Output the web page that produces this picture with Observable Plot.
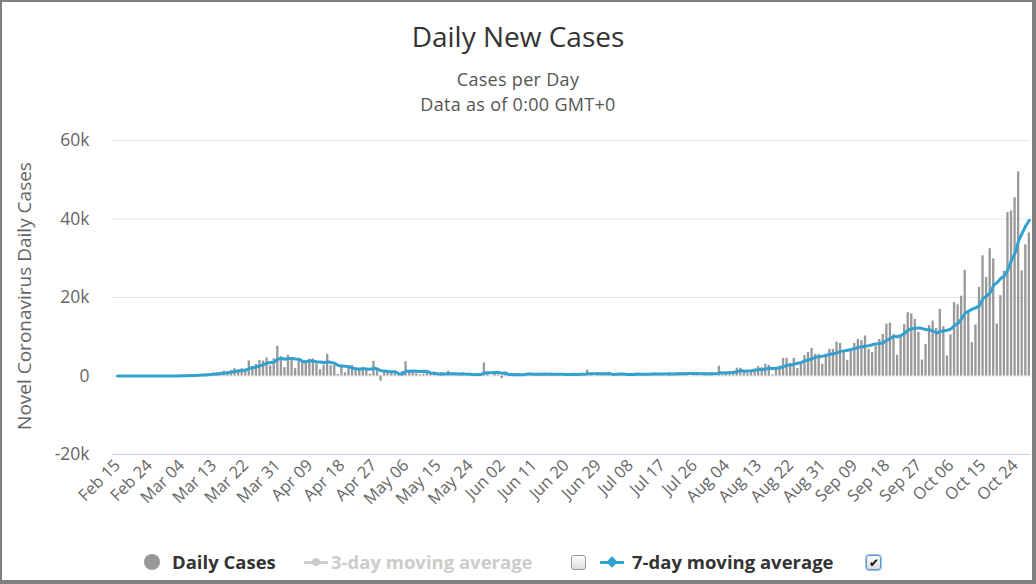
<!DOCTYPE html>
<html>
<head>
<meta charset="utf-8">
<script src="https://cdn.jsdelivr.net/npm/d3@7"></script>
<script src="https://cdn.jsdelivr.net/npm/@observablehq/plot@0.6"></script>
<style>
  html, body { margin: 0; padding: 0; background: #fff; }
  #wrap { position: relative; width: 1036px; height: 584px; overflow: hidden; font-family: "Open Sans", sans-serif; }
  #frame { position: absolute; left: 0; top: 0; width: 1036px; height: 584px; box-sizing: border-box;
           border-style: solid; border-color: #808080; border-width: 2px 4px 4px 2px; pointer-events: none; }
  .title { position: absolute; left: 0; width: 1036px; text-align: center; }
  #title { top: 18px; height: 36px; line-height: 36px; font-size: 28px; color: #333; }
  #sub1 { top: 67px; line-height: 24.6px; font-size: 18px; color: #555; letter-spacing: 0.3px; }
  #sub2 { top: 91.8px; line-height: 24.6px; font-size: 18px; color: #555; letter-spacing: 0.3px; }
  #ylab { position: absolute; left: 24px; top: 296px; transform: translate(-50%, -50%) rotate(-90deg);
          white-space: nowrap; font-size: 19px; line-height: 22px; color: #666; }
  #chart { position: absolute; left: 0; top: 120px; }
  #legend { position: absolute; left: 0; top: 550px; width: 1036px; height: 26px; font-weight: bold; font-size: 18.5px; }
  .li { position: absolute; top: -1px; line-height: 26px; white-space: nowrap; }
  .dot { position: absolute; width: 16px; height: 16px; border-radius: 50%; background: #999; top: 4px; }
  .sym { position: absolute; width: 24px; height: 3px; top: 11px; }
  .dia { position: absolute; width: 8px; height: 8px; top: -3px; left: 8px; transform: rotate(45deg); }
  .cb { position: absolute; width: 13px; height: 13px; top: 5px; border: 1px solid #999; border-radius: 3px;
        background: linear-gradient(#fff, #ddd); font-size: 12px; line-height: 13px; text-align: center; color: #111; font-weight: normal; }
</style>
</head>
<body>
<div id="wrap">
  <div class="title" id="title">Daily New Cases</div>
  <div class="title" id="sub1">Cases per Day</div>
  <div class="title" id="sub2">Data as of 0:00 GMT+0</div>
  <div id="ylab">Novel Coronavirus Daily Cases</div>
  <div id="chart"></div>
  <div id="legend">
    <div class="dot" style="left:144px"></div>
    <div class="li" style="left:172px;color:#333">Daily Cases</div>
    <div class="sym" style="left:304px;background:#ccc"><div class="dia" style="background:#ccc;border-radius:50%;transform:none"></div></div>
    <div class="li" style="left:331px;color:#ccc">3-day moving average</div>
    <div class="cb" style="left:571px"></div>
    <div class="sym" style="left:600px;background:#33a1cf"><div class="dia" style="background:#33a1cf"></div></div>
    <div class="li" style="left:632px;color:#333">7-day moving average</div>
    <div class="cb" style="left:866px;border-color:#5b9bd5;box-shadow:0 0 0 1px #9cc3ea">&#10004;</div>
  </div>
  <div id="frame"></div>
</div>
<script>
// ---- data (France, Worldometers-style daily new cases) ----
const startDate = "2020-02-15";
const casesFeb = [0,0,0,0,0,0,0,0,0,0,2,4,20,19,43];
const casesMar = [30,61,21,73,138,190,336,177,286,372,497,595,785,838,924,1210,1097,1404,1861,1617,1847,1559,3838,2446,2931,3922,3809,4611,2599,4376,7578];
const casesApr = [4861,2116,5233,4267,1873,3912,3777,3881,4286,4342,3114,1613,2673,5497,2633,2641,405,2569,785,2051,2667,1827,1653,1773,1537,461,3764,1520,-1300,1139];
const casesMay = [1100,800,580,220,1100,3640,1100,1284,579,312,456,802,600,940,0,820,0,1212,420,524,559,568,0,0,358,532,600,3325,1000,0,600];
const casesJun = [257,-700,767,611,600,579,0,344,500,767,400,495,526,407,0,700,371,458,460,480,0,600,500,500,360,1500,390,0,812,495];
const casesJul = [600,580,0,500,560,620,0,550,640,660,0,580,620,500,700,600,660,0,750,520,580,800,900,850,0,700,750,0,850,700,850];
const casesAug = [0,2500,300,700,1100,1100,2000,2000,1400,700,1100,1800,2400,2100,3000,2700,300,1700,2500,4500,4500,3200,4500,1900,3200,5200,6000,7000,5500,5500,3000];
const casesSep = [4900,6800,6800,8600,8300,6400,4000,6400,8300,9300,9000,10200,6800,6000,7500,9300,10593,13215,13498,10569,5298,10008,13072,16096,15797,14412,11123,4070,8051,12845];
const casesOct = [13970,12148,16972,12565,5084,10489,18746,18129,20339,26896,16101,8505,12993,22591,30621,25086,32427,29837,13243,20468,26676,41622,42032,45422,52010,26771,33417,36437];
const dailyCases = [...casesFeb, ...casesMar, ...casesApr, ...casesMay, ...casesJun, ...casesJul, ...casesAug, ...casesSep, ...casesOct];

const xTickLabels = ["Feb 15","Feb 24","Mar 04","Mar 13","Mar 22","Mar 31","Apr 09","Apr 18","Apr 27","May 06","May 15","May 24","Jun 02","Jun 11","Jun 20","Jun 29","Jul 08","Jul 17","Jul 26","Aug 04","Aug 13","Aug 22","Aug 31","Sep 09","Sep 18","Sep 27","Oct 06","Oct 15","Oct 24"];
const yTickValues = [-20000, 0, 20000, 40000, 60000];
const yTickLabels = ["-20k", "0", "20k", "40k", "60k"];
const gridValues = [0, 20000, 40000, 60000];

const barColor = "#999999";
const lineColor = "#33a1cf";

// ---- build table ----
const fmt = d3.utcFormat("%b %d");
const start = new Date(startDate + "T00:00:00Z");
const data = dailyCases.map((v, i) => {
  const d = d3.utcDay.offset(start, i);
  return {key: d3.utcFormat("%Y-%m-%d")(d), label: fmt(d), cases: v};
});
const keys = data.map(d => d.key);
const labelOf = new Map(data.map(d => [d.key, d.label]));
const tickKeys = data.filter(d => xTickLabels.includes(d.label)).map(d => d.key);
const yLabelOf = new Map(yTickValues.map((v, i) => [v, yTickLabels[i]]));

const chart = Plot.plot({
  width: 1036,
  height: 420,
  marginTop: 20,
  marginBottom: 86,
  marginLeft: 112,
  marginRight: 6,
  style: {fontFamily: "'Open Sans', sans-serif", background: "transparent", overflow: "visible"},
  x: {type: "band", domain: keys, paddingInner: 0.35, paddingOuter: 0.54, align: 1},
  y: {domain: [-20000, 60000]},
  marks: [
    Plot.ruleY(gridValues, {stroke: "#e6e6e6", strokeWidth: 1}),
    Plot.ruleY([-20000], {stroke: "#ccd6eb", strokeWidth: 1}),
    Plot.barY(data, {x: "key", y: "cases", fill: barColor}),
    Plot.lineY(data, Plot.windowY({k: 7, anchor: "end", reduce: "mean"}, {x: "key", y: "cases", stroke: lineColor, strokeWidth: 3, curve: "linear"})),
    Plot.axisY({ticks: yTickValues, tickFormat: v => yLabelOf.get(v), tickSize: 0, tickPadding: 23, fontSize: 17.5, color: "#666", label: null}),
    Plot.axisX({ticks: tickKeys, tickFormat: k => labelOf.get(k), tickRotate: -45, tickSize: 0, tickPadding: 8, fontSize: 16.5, color: "#666", label: null})
  ]
});
document.getElementById("chart").appendChild(chart);
</script>
</body>
</html>
